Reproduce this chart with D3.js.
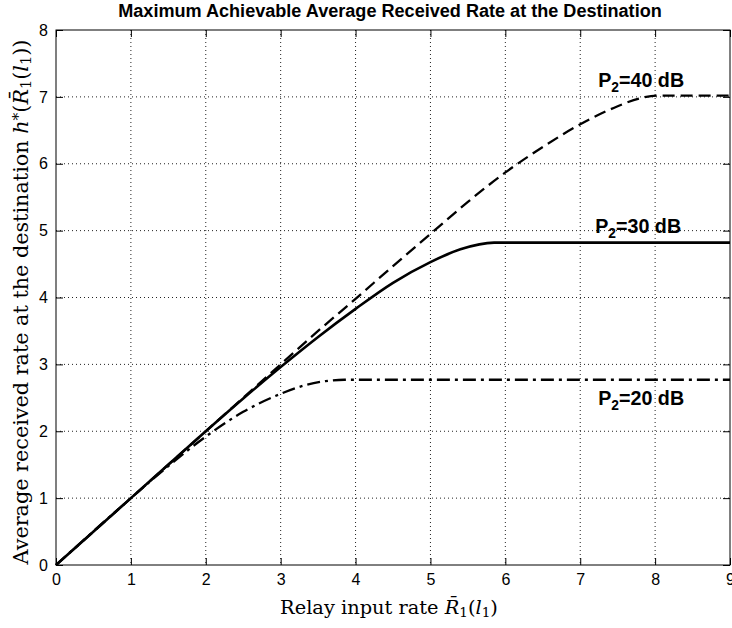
<!DOCTYPE html>
<html>
<head>
<meta charset="utf-8">
<script src="https://cdn.jsdelivr.net/npm/d3@7/dist/d3.min.js"></script>
<style>
  html, body { margin: 0; padding: 0; background: #fff; }
  svg { display: block; }
</style>
</head>
<body>
<svg id="chart" width="732" height="628"></svg>
<script>
// Relay input rate (x) vs. maximum achievable average received rate (y)
const xTicks = [0, 1, 2, 3, 4, 5, 6, 7, 8, 9];
const yTicks = [0, 1, 2, 3, 4, 5, 6, 7, 8];

const rateP40 = [[0,0],[1,1],[2,2],[3,3],[3.5,3.5],[4,3.98],[4.5,4.47],[5,4.95],[5.5,5.43],[6,5.87],
                 [6.5,6.25],[7,6.59],[7.5,6.86],[7.8,6.98],[8.05,7.02],[9,7.02]];
const rateP30 = [[0,0],[1,1],[2,2],[2.5,2.49],[3,2.96],[3.5,3.41],[4,3.83],[4.5,4.22],[5,4.53],
                 [5.4,4.72],[5.85,4.82],[9,4.82]];
const rateP20 = [[0,0],[1,1],[1.5,1.48],[2,1.92],[2.5,2.29],[3,2.56],[3.3,2.68],[3.6,2.75],
                 [3.85,2.77],[9,2.77]];

const seriesNames = ["P2=40 dB", "P2=30 dB", "P2=20 dB"];
const seriesData = [rateP40, rateP30, rateP20];

const svg = d3.select("#chart");
const plotL = 56, plotR = 730, plotT = 30, plotB = 565;

const x = d3.scaleLinear().domain([0, 9]).range([plotL, plotR]);
const y = d3.scaleLinear().domain([0, 8]).range([plotB, plotT]);

const tickFont = "'Liberation Sans', Arial, sans-serif";
const serifFont = "'DejaVu Serif', 'Liberation Serif', serif";

// fit a text element to a target width by scaling its font size
function fitWidth(sel, target) {
  const node = sel.node();
  const fs = parseFloat(sel.attr("font-size"));
  const w = node.getComputedTextLength();
  if (w > 0) sel.attr("font-size", (fs * target / w).toFixed(2));
}

// dotted grid
const grid = svg.append("g");
xTicks.slice(1, -1).forEach(t => {
  grid.append("line").attr("x1", x(t)).attr("x2", x(t)).attr("y1", plotT).attr("y2", plotB)
    .attr("stroke", "#222").attr("stroke-width", 1).attr("stroke-dasharray", "1,3");
});
yTicks.slice(1, -1).forEach(t => {
  grid.append("line").attr("x1", plotL).attr("x2", plotR).attr("y1", y(t)).attr("y2", y(t))
    .attr("stroke", "#222").attr("stroke-width", 1).attr("stroke-dasharray", "1,3");
});

// curves
const line = d3.line().x(d => x(d[0])).y(d => y(d[1])).curve(d3.curveMonotoneX);
const styles = [
  { dash: "12,6", width: 2.3 },
  { dash: null, width: 2.6 },
  { dash: "13,5,3,5", width: 2.3 }
];
seriesData.forEach((data, i) => {
  const p = svg.append("path").datum(data).attr("d", line)
    .attr("fill", "none").attr("stroke", "#000")
    .attr("stroke-width", styles[i].width);
  if (styles[i].dash) p.attr("stroke-dasharray", styles[i].dash);
});

// axes with inward ticks on all four sides
const tickLen = 7;
const axB = svg.append("g").attr("transform", `translate(0,${plotB})`)
  .call(d3.axisBottom(x).tickValues(xTicks).tickSize(-tickLen).tickPadding(9).tickFormat(d3.format("d")));
const axT = svg.append("g").attr("transform", `translate(0,${plotT})`)
  .call(d3.axisTop(x).tickValues(xTicks).tickSize(-tickLen).tickFormat(""));
const axL = svg.append("g").attr("transform", `translate(${plotL},0)`)
  .call(d3.axisLeft(y).tickValues(yTicks).tickSize(-tickLen).tickPadding(8).tickFormat(d3.format("d")));
const axR = svg.append("g").attr("transform", `translate(${plotR},0)`)
  .call(d3.axisRight(y).tickValues(yTicks).tickSize(-tickLen).tickFormat(""));
[axB, axT, axL, axR].forEach(a => {
  a.select(".domain").remove();
  a.selectAll(".tick line").attr("stroke", "#000");
  a.selectAll("text").attr("font-family", tickFont).attr("font-size", 16).attr("fill", "#000");
});

// box
svg.append("rect").attr("x", plotL).attr("y", plotT).attr("width", plotR - plotL).attr("height", plotB - plotT)
  .attr("fill", "none").attr("stroke", "#000").attr("stroke-width", 1);

// curve labels
const labelAnchors = [[7.24, 7.15], [7.2, 4.97], [7.24, 2.39]];
seriesNames.forEach((name, i) => {
  const m = name.match(/^P2(.*)$/);
  const t = svg.append("text").attr("x", x(labelAnchors[i][0])).attr("y", y(labelAnchors[i][1]))
    .attr("font-family", tickFont).attr("font-weight", "bold").attr("font-size", 17).attr("fill", "#000");
  t.append("tspan").text("P");
  t.append("tspan").text("2").attr("font-size", "0.7em").attr("dy", 5);
  t.append("tspan").text(m[1]).attr("dy", -5);
  fitWidth(t, 86);
});

// title
const title = svg.append("text").attr("x", 390).attr("y", 17).attr("text-anchor", "middle")
  .attr("font-family", tickFont).attr("font-weight", "bold").attr("font-size", 15).attr("fill", "#000")
  .text("Maximum Achievable Average Received Rate at the Destination");
fitWidth(title, 544);

// x label: Relay input rate R̄1(l1)
const xl = svg.append("text").attr("x", 389).attr("y", 614).attr("text-anchor", "middle")
  .attr("font-family", serifFont).attr("font-size", 15).attr("fill", "#000");
xl.append("tspan").text("Relay input rate ");
xl.append("tspan").text("R\u0304").attr("font-style", "italic");
xl.append("tspan").text("1").attr("font-size", "0.7em").attr("dy", 3);
xl.append("tspan").text("(").attr("dy", -3);
xl.append("tspan").text("l").attr("font-style", "italic");
xl.append("tspan").text("1").attr("font-size", "0.7em").attr("dy", 3);
xl.append("tspan").text(")").attr("dy", -3);
fitWidth(xl, 218);

// y label: Average received rate at the destination h*(R̄1(l1))
const yl = svg.append("text").attr("transform", "translate(28,302) rotate(-90)").attr("text-anchor", "middle")
  .attr("font-family", serifFont).attr("font-size", 15).attr("fill", "#000");
yl.append("tspan").text("Average received rate at the destination ");
yl.append("tspan").text("h").attr("font-style", "italic");
yl.append("tspan").text("*").attr("font-size", "0.75em").attr("dy", -5);
yl.append("tspan").text("(").attr("dy", 5);
yl.append("tspan").text("R\u0304").attr("font-style", "italic");
yl.append("tspan").text("1").attr("font-size", "0.7em").attr("dy", 3);
yl.append("tspan").text("(").attr("dy", -3);
yl.append("tspan").text("l").attr("font-style", "italic");
yl.append("tspan").text("1").attr("font-size", "0.7em").attr("dy", 3);
yl.append("tspan").text("))").attr("dy", -3);
fitWidth(yl, 525);
</script>
</body>
</html>
